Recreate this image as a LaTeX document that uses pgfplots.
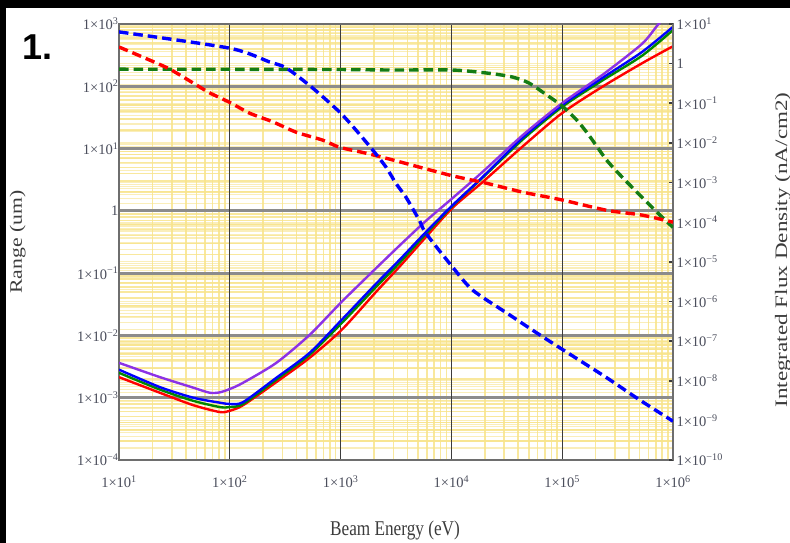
\documentclass[border=0pt]{standalone}
\usepackage{fontspec}
\setmainfont{Liberation Serif}
\newfontfamily\labelsans{Liberation Sans}
\usepackage{pgfplots}
\pgfplotsset{compat=1.18}
\definecolor{gridyel}{RGB}{248,228,140}
\definecolor{majgrid}{RGB}{140,140,140}
\definecolor{xmaj}{RGB}{60,60,60}
\definecolor{tickc}{RGB}{75,78,92}
\definecolor{labc}{RGB}{60,60,60}
\definecolor{cred}{RGB}{255,0,0}
\definecolor{cblue}{RGB}{0,0,255}
\definecolor{cgreen}{RGB}{0,135,0}
\definecolor{cpurple}{RGB}{140,50,230}
\definecolor{dgreen}{RGB}{20,125,20}
\newcommand{\tl}[1]{1×10\textsuperscript{#1}}
\pgfplotsset{
  myaxbase/.style={at={(119pt,83pt)},anchor=south west,scale only axis,width=554pt,height=436pt,xmin=10,xmax=1e6},
  myleftscale/.style={ymin=1e-4,ymax=1e3},
  myrightscale/.style={ymin=1e-10,ymax=1e1},
  mybare/.style={axis line style={draw=none},xticklabels={},yticklabels={},major tick length=0pt,minor tick length=0pt},
  myxmaj/.style={xtick={10,100,1000,10000,100000,1000000}},
  myxmin/.style={minor xtick={20,30,40,50,60,70,80,90,200,300,400,500,600,700,800,900,2000,3000,4000,5000,6000,7000,8000,9000,20000,30000,40000,50000,60000,70000,80000,90000,200000,300000,400000,500000,600000,700000,800000,900000}},
  mylmaj/.style={ytick={1e-4,1e-3,1e-2,1e-1,1,1e1,1e2,1e3}},
  mylmin/.style={minor ytick={2e-4,3e-4,4e-4,5e-4,6e-4,7e-4,8e-4,9e-4,2e-3,3e-3,4e-3,5e-3,6e-3,7e-3,8e-3,9e-3,2e-2,3e-2,4e-2,5e-2,6e-2,7e-2,8e-2,9e-2,0.2,0.3,0.4,0.5,0.6,0.7,0.8,0.9,2,3,4,5,6,7,8,9,20,30,40,50,60,70,80,90,200,300,400,500,600,700,800,900}},
  myrmaj/.style={ytick={1e-10,1e-9,1e-8,1e-7,1e-6,1e-5,1e-4,1e-3,1e-2,1e-1,1,1e1}},
  myrmin/.style={minor ytick={2e-10,3e-10,4e-10,5e-10,6e-10,7e-10,8e-10,9e-10,2e-9,3e-9,4e-9,5e-9,6e-9,7e-9,8e-9,9e-9,2e-8,3e-8,4e-8,5e-8,6e-8,7e-8,8e-8,9e-8,2e-7,3e-7,4e-7,5e-7,6e-7,7e-7,8e-7,9e-7,2e-6,3e-6,4e-6,5e-6,6e-6,7e-6,8e-6,9e-6,2e-5,3e-5,4e-5,5e-5,6e-5,7e-5,8e-5,9e-5,2e-4,3e-4,4e-4,5e-4,6e-4,7e-4,8e-4,9e-4,2e-3,3e-3,4e-3,5e-3,6e-3,7e-3,8e-3,9e-3,2e-2,3e-2,4e-2,5e-2,6e-2,7e-2,8e-2,9e-2,0.2,0.3,0.4,0.5,0.6,0.7,0.8,0.9,2,3,4,5,6,7,8,9}},
}
\tikzset{
  mysolid/.style={line width=2.4pt,line join=round,smooth,tension=0.45},
  mydash/.style={line width=3.4pt,dash pattern=on 9.5pt off 5pt,smooth,tension=0.45},
}
\begin{document}
\begin{tikzpicture}
\useasboundingbox (0,0) rectangle (790pt,543pt);
\fill[black] (0,0) rectangle (790pt,543pt);
\fill[white] (6pt,0) rectangle (790pt,535pt);
% right-scale yellow grid
\begin{loglogaxis}[myaxbase,myrightscale,mybare,myrmaj,myrmin,xtick=\empty,ymajorgrids,yminorgrids,
  major grid style={gridyel,line width=1.2pt,opacity=0.6},minor grid style={gridyel,line width=1.2pt,opacity=0.6}]
\end{loglogaxis}
% left-scale yellow minor grid
\begin{loglogaxis}[myaxbase,myleftscale,mybare,myxmaj,myxmin,mylmaj,mylmin,xminorgrids,yminorgrids,
  minor grid style={gridyel,line width=1.6pt,opacity=0.85}]
\end{loglogaxis}
% left major horizontal grid
\begin{loglogaxis}[myaxbase,myleftscale,mybare,mylmaj,xtick=\empty,ymajorgrids,
  major grid style={majgrid,line width=2.8pt}]
\end{loglogaxis}
% main left axis
\begin{loglogaxis}[myaxbase,myleftscale,myxmaj,mylmaj,xmajorgrids,
  major grid style={xmaj,line width=1.3pt},
  major tick length=0pt,minor tick length=0pt,
  axis line style={draw={rgb,255:red,110;green,110;blue,110},line width=1.8pt},
  xticklabels={\tl{1},\tl{2},\tl{3},\tl{4},\tl{5},\tl{6}},
  yticklabels={\tl{−4},\tl{−3},\tl{−2},\tl{−1},1,\tl{1},\tl{2},\tl{3}},
  xticklabel style={font=\fontsize{14.5}{16}\selectfont,text=tickc,anchor=north,yshift=-12pt},
  yticklabel style={font=\fontsize{14.5}{16}\selectfont,text=tickc,anchor=east,xshift=3pt},
  xminorticks=false,yminorticks=false]
\addplot[mysolid,cred] coordinates {(10,2.14e-3)(23.4,1.20e-3)(46.8,7.59e-4)(81.3,5.89e-4)(100,6.17e-4)(132,7.59e-4)(263,1.78e-3)(525,4.37e-3)(1023,1.23e-2)(2089,5.0e-2)(3388,0.126)(5888,0.380)(10233,1.12)(19055,2.88)(43652,10.7)(100000,37.2)(229087,97.7)(524807,234)(1000000,440)};
\addplot[mysolid,cgreen] coordinates {(10,2.51e-3)(23.4,1.35e-3)(46.8,8.91e-4)(81.3,7.08e-4)(100,7.08e-4)(132,7.94e-4)(263,1.95e-3)(525,4.90e-3)(1023,1.58e-2)(2089,6.0e-2)(3388,0.145)(5888,0.427)(10233,1.20)(19055,3.39)(43652,13.8)(100000,46.8)(229087,123)(524807,309)(1000000,800)};
\addplot[mysolid,cblue] coordinates {(10,2.82e-3)(23.4,1.48e-3)(46.8,1.0e-3)(81.3,8.32e-4)(100,7.94e-4)(132,8.51e-4)(263,2.09e-3)(525,5.25e-3)(1023,1.78e-2)(2089,6.76e-2)(3388,0.162)(5888,0.457)(10233,1.23)(19055,3.47)(43652,14.8)(100000,50.1)(229087,135)(524807,355)(1000000,900)};
\addplot[mysolid,cpurple] coordinates {(10,3.63e-3)(23.4,2.14e-3)(46.8,1.45e-3)(66.1,1.20e-3)(81.3,1.22e-3)(100,1.38e-3)(132,1.74e-3)(263,3.63e-3)(525,1.02e-2)(1023,3.47e-2)(2089,0.12)(3388,0.275)(5888,0.69)(10233,1.6)(19055,4.2)(43652,16.2)(100000,53.7)(229087,151)(524807,479)(741310,1000)(1000000,1700)};
\end{loglogaxis}
% right axis with dashed curves
\begin{loglogaxis}[myaxbase,myrightscale,myrmaj,axis x line=none,axis y line*=right,
  axis line style={draw={rgb,255:red,110;green,110;blue,110},line width=1.8pt},
  tick align=inside,major tick length=4pt,yminorticks=false,
  ytick style={draw={rgb,255:red,60;green,60;blue,60},line width=1.6pt},
  yticklabels={\tl{−10},\tl{−9},\tl{−8},\tl{−7},\tl{−6},\tl{−5},\tl{−4},\tl{−3},\tl{−2},\tl{−1},1,\tl{1}},
  yticklabel style={font=\fontsize{14.5}{16}\selectfont,text=tickc,anchor=west}]
\addplot[mydash,dgreen] coordinates {(10,0.724)(100,0.72)(1000,0.71)(2951,0.69)(10233,0.69)(21878,0.57)(35481,0.46)(50119,0.324)(72444,0.162)(100000,0.0851)(134896,0.038)(173780,0.0158)(251189,3.72e-3)(346737,1.38e-3)(524807,4.27e-4)(794328,1.35e-4)(1000000,7.4e-5)};
\addplot[mydash,cred] coordinates {(10,2.63)(25.1,0.871)(33.1,0.579)(50.1,0.288)(66.1,0.182)(102,0.102)(151,0.0562)(245,0.0339)(398,0.0186)(692,0.0117)(977,7.76e-3)(1698,5.50e-3)(2951,3.72e-3)(9550,1.55e-3)(20893,9.55e-4)(43652,5.75e-4)(100000,3.63e-4)(251189,2.0e-4)(524807,1.51e-4)(1000000,1.0e-4)};
\addplot[mydash,cblue] coordinates {(10,6.31)(100,2.45)(229,1.10)(324,0.776)(562,0.240)(977,0.0603)(1380,0.0209)(1950,6.6e-3)(2570,2.45e-3)(3160,9.5e-4)(3890,4.27e-4)(5130,1.12e-4)(5890,5.25e-5)(10233,7.4e-6)(15500,1.95e-6)(31600,5.1e-7)(61700,1.48e-7)(100000,6.2e-8)(251189,1.2e-8)(490000,3.4e-9)(1000000,9.5e-10)};
\end{loglogaxis}
\node[anchor=base west,inner sep=0pt] at (22pt,483pt) {\fontsize{36}{40}\labelsans\bfseries 1.};
\node[anchor=base,inner sep=0pt,text=labc] at (395pt,7pt) {\scalebox{1.23}[1.5]{\fontsize{14}{16}\selectfont Beam Energy (eV)}};
\node[anchor=base,inner sep=0pt,rotate=90,text=labc] at (22pt,301pt) {\scalebox{1.55}[1.25]{\fontsize{14}{16}\selectfont Range (um)}};
\node[anchor=base,inner sep=0pt,rotate=90,text=labc] at (787pt,293pt) {\scalebox{1.65}[1.25]{\fontsize{14}{16}\selectfont Integrated Flux Density (nA/cm2)}};
\end{tikzpicture}
\end{document}
